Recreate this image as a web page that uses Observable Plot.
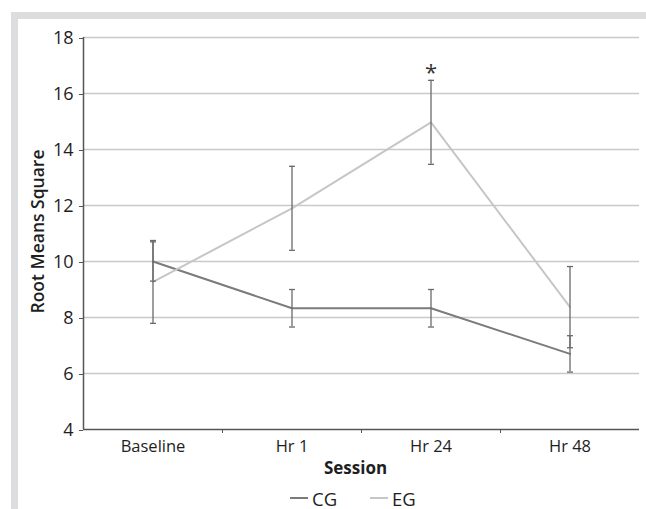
<!DOCTYPE html>
<html>
<head>
<meta charset="utf-8">
<script src="https://cdn.jsdelivr.net/npm/d3@7"></script>
<script src="https://cdn.jsdelivr.net/npm/@observablehq/plot@0.6"></script>
<style>
  html, body { margin: 0; padding: 0; background: #fff; }
  #wrap { position: relative; width: 646px; height: 509px; overflow: hidden; font-family: "Open Sans", sans-serif; }
  #frame { position: absolute; left: 11px; top: 12px; width: 640px; height: 500px;
           border-left: 7px solid #dcdddf; border-top: 7px solid #dcdddf; }
  #chart { position: absolute; left: 0; top: 0; }
  #legend { position: absolute; left: 0; top: 486px; width: 646px; height: 23px; font-size: 18.5px; color: #1e1e1e; }
  .item { position: absolute; top: 0; display: flex; align-items: center; height: 24px; }
  .swatch { width: 18px; height: 0; margin-right: 4px; }
</style>
</head>
<body>
<div id="wrap">
  <div id="frame"></div>
  <div id="chart"></div>
  <div id="legend"></div>
</div>
<script>
const sessions = ["Baseline", "Hr 1", "Hr 24", "Hr 48"];
const cgMean = [10.0, 8.33, 8.33, 6.7];
const cgErr  = [0.7, 0.67, 0.67, 0.65];
const egMean = [9.27, 11.9, 14.97, 8.37];
const egErr  = [1.48, 1.5, 1.5, 1.45];
const yTicks = [4, 6, 8, 10, 12, 14, 16, 18];
const groups = ["CG", "EG"];
const groupColors = ["#7b7b7b", "#c6c6c6"];
const annotations = [{session: 2, group: "EG", text: "*"}];

const rows = [];
sessions.forEach((s, i) => {
  rows.push({i, group: "CG", mean: cgMean[i], lo: cgMean[i] - cgErr[i], hi: cgMean[i] + cgErr[i]});
  rows.push({i, group: "EG", mean: egMean[i], lo: egMean[i] - egErr[i], hi: egMean[i] + egErr[i]});
});
const caps = rows.flatMap(r => [{i: r.i, y: r.lo}, {i: r.i, y: r.hi}]);
const ann = annotations.map(a => {
  const r = rows.find(d => d.i === a.session && d.group === a.group);
  return {i: a.session, y: r.hi, text: a.text};
});

const capSymbol = {
  draw(ctx, size) {
    const w = Math.sqrt(size / Math.PI);
    ctx.moveTo(-w, 0);
    ctx.lineTo(w, 0);
  }
};

const boundaries = sessions.slice(1).map((_, k) => k + 0.5);

const plot = Plot.plot({
  width: 646,
  height: 484,
  marginLeft: 83,
  marginRight: 7,
  marginTop: 37,
  marginBottom: 55,
  style: {background: "transparent", fontFamily: "Open Sans, sans-serif", fontSize: "17px", color: "#1e1e1e"},
  x: {type: "linear", domain: [-0.5, sessions.length - 0.5]},
  y: {domain: [4, 18]},
  color: {domain: groups, range: groupColors},
  marks: [
    Plot.ruleY(yTicks.filter(t => t > 4), {stroke: "#c9c9c9", strokeWidth: 1.3}),
    Plot.axisY({ticks: yTicks, tickSize: 4, tickPadding: 6, label: null, stroke: "#555", fontSize: 18, dy: 1}),
    Plot.axisX({ticks: sessions.map((_, i) => i), tickSize: 0, tickPadding: 11, tickFormat: i => sessions[i], label: null, fontSize: 16.5}),
    Plot.axisX({ticks: boundaries, tickSize: 4, tickFormat: () => "", label: null, stroke: "#555"}),
    Plot.ruleY([4], {stroke: "#555", strokeWidth: 1.5}),
    Plot.ruleX([-0.5], {stroke: "#555", strokeWidth: 1.5}),
    Plot.line(rows, {x: "i", y: "mean", z: "group", stroke: "group", strokeWidth: 2}),
    Plot.ruleX(rows, {x: "i", y1: "lo", y2: "hi", stroke: "#6a6a6a", strokeWidth: 1.3}),
    Plot.dot(caps, {x: "i", y: "y", symbol: capSymbol, r: 3, stroke: "#6a6a6a", strokeWidth: 1.3}),
    Plot.text(ann, {x: "i", y: "y", text: "text", dy: -7, fontSize: 22, fill: "#333"}),
    Plot.text(["Root Means Square"], {frameAnchor: "left", textAnchor: "middle", dx: -45, dy: -2, rotate: -90, fontSize: 17.5, fontWeight: 600, fill: "#1e1e1e"}),
    Plot.text(["Session"], {frameAnchor: "bottom", dx: -6, dy: 44, fontSize: 17, fontWeight: "bold", fill: "#1e1e1e"})
  ]
});
document.getElementById("chart").appendChild(plot);

const legend = document.getElementById("legend");
const legendLeft = [290, 370];
groups.forEach((g, k) => {
  const item = document.createElement("div");
  item.className = "item";
  item.style.left = legendLeft[k] + "px";
  const sw = document.createElement("span");
  sw.className = "swatch";
  sw.style.borderTop = "2px solid " + groupColors[k];
  const lab = document.createElement("span");
  lab.textContent = g;
  item.appendChild(sw);
  item.appendChild(lab);
  legend.appendChild(item);
});
</script>
</body>
</html>
